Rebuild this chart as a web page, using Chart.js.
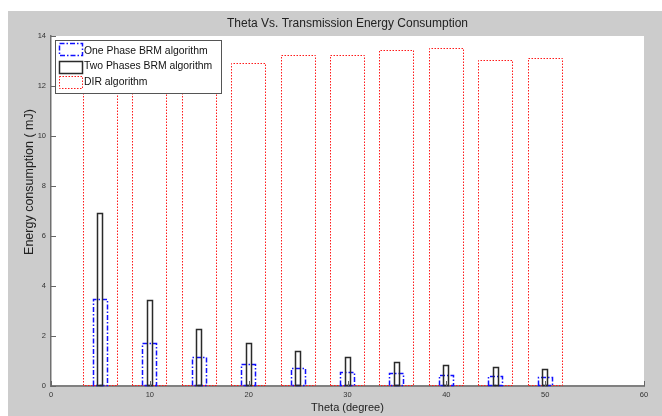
<!DOCTYPE html>
<html>
<head>
<meta charset="utf-8">
<script src="https://cdn.jsdelivr.net/npm/chart.js@4.4.1/dist/chart.umd.min.js"></script>
<style>
  html, body { margin: 0; padding: 0; background: #fff; }
  #wrap { position: relative; width: 662px; height: 416px; }
</style>
</head>
<body>
<div id="wrap"><canvas id="energyChart" width="662" height="416"></canvas></div>
<script>
// values
let thetas = [5, 10, 15, 20, 25, 30, 35, 40, 45, 50];
let onePhase = [3.47, 1.73, 1.17, 0.88, 0.71, 0.57, 0.51, 0.43, 0.41, 0.35];
let twoPhases = [6.91, 3.44, 2.29, 1.72, 1.39, 1.16, 0.97, 0.85, 0.76, 0.67];
let dirAlgo = [12.6, 12.7, 12.8, 12.93, 13.25, 13.23, 13.45, 13.53, 13.04, 13.13];
let seriesNames = ["One Phase BRM algorithm", "Two Phases BRM algorithm", "DIR algorithm"];
let xTicks = [0, 10, 20, 30, 40, 50, 60];
let yTicks = [0, 2, 4, 6, 8, 10, 12, 14];

// outline styles for each series (MATLAB style bars, no fill)
let styles = [
    { color: "#1010ff", width: 1.5, dash: [5, 2, 1.5, 2] },
    { color: "#2a2a2a", width: 1.5, dash: [] },
    { color: "#ff1a1a", width: 1, dash: [1.5, 1.5] }
];

function points(ys) {
    return thetas.map((t, i) => ({ x: t, y: ys[i] }));
}

// grey figure background + white axes box
const backgroundPlugin = {
    id: "background",
    beforeDraw(chart) {
        const ctx = chart.ctx, a = chart.chartArea;
        ctx.save();
        ctx.fillStyle = "#ffffff";
        ctx.fillRect(0, 0, chart.width, chart.height);
        ctx.fillStyle = "#cccccc";
        ctx.fillRect(8, 11, chart.width - 8, chart.height - 11);
        ctx.fillStyle = "#ffffff";
        ctx.fillRect(a.left, a.top, a.right - a.left, a.bottom - a.top);
        ctx.restore();
    }
};

// stroke bar outlines with dash patterns (bar elements can't dash)
const outlinePlugin = {
    id: "outline",
    afterDatasetsDraw(chart) {
        const ctx = chart.ctx;
        [2, 0, 1].forEach(di => {
            const st = styles[di];
            chart.getDatasetMeta(di).data.forEach(el => {
                const p = el.getProps(["x", "y", "base", "width"], true);
                const l = Math.round(p.x - p.width / 2) + 0.5;
                const r = Math.round(p.x + p.width / 2) - 0.5;
                const t = Math.round(p.y) + 0.5;
                const b = Math.round(p.base) - 0.5;
                ctx.save();
                ctx.strokeStyle = st.color;
                ctx.lineWidth = st.width;
                ctx.setLineDash(st.dash);
                ctx.beginPath();
                ctx.moveTo(l, b);
                ctx.lineTo(l, t);
                ctx.lineTo(r, t);
                ctx.lineTo(r, b);
                ctx.closePath();
                ctx.stroke();
                ctx.restore();
            });
        });
    }
};

// inward ticks, y title and the boxed legend in the top left corner
const decorPlugin = {
    id: "decor",
    afterDatasetsDraw(chart) {
        const ctx = chart.ctx, a = chart.chartArea;
        const xs = chart.scales.x, ys = chart.scales.y;
        ctx.save();
        ctx.strokeStyle = "#666";
        ctx.lineWidth = 1;
        ctx.beginPath();
        xTicks.forEach(v => {
            const px = Math.round(xs.getPixelForValue(v)) + 0.5;
            ctx.moveTo(px, a.bottom);
            ctx.lineTo(px, a.bottom - 5);
        });
        yTicks.forEach(v => {
            const py = Math.round(ys.getPixelForValue(v)) + 0.5;
            ctx.moveTo(a.left, py);
            ctx.lineTo(a.left + 5, py);
        });
        ctx.stroke();

        // y axis title
        ctx.fillStyle = "#222";
        ctx.font = "12.5px 'Liberation Sans', Arial, sans-serif";
        ctx.textAlign = "center";
        ctx.textBaseline = "middle";
        ctx.translate(30, 182);
        ctx.rotate(-Math.PI / 2);
        ctx.fillText("Energy consumption ( mJ)", 0, 0);
        ctx.restore();

        // legend box
        ctx.save();
        const lx = 55, ly = 40, lw = 166, lh = 53;
        ctx.fillStyle = "#fff";
        ctx.fillRect(lx, ly, lw, lh);
        ctx.strokeStyle = "#555";
        ctx.lineWidth = 1;
        ctx.strokeRect(lx + 0.5, ly + 0.5, lw, lh);
        const swatchTop = [43, 61, 76];
        const textMid = [51.5, 66.5, 82];
        seriesNames.forEach((name, i) => {
            const st = styles[i];
            ctx.save();
            ctx.strokeStyle = st.color;
            ctx.lineWidth = st.width;
            ctx.setLineDash(st.dash);
            ctx.strokeRect(59.5, swatchTop[i] + 0.5, 23, 12);
            ctx.restore();
            ctx.fillStyle = "#111";
            ctx.font = "10.4px 'Liberation Sans', Arial, sans-serif";
            ctx.textAlign = "left";
            ctx.textBaseline = "middle";
            ctx.fillText(name, 84, textMid[i]);
        });
        ctx.restore();
    }
};

let chart = new Chart(document.getElementById("energyChart"), {
    type: "bar",
    data: {
        datasets: [
            { label: seriesNames[0], data: points(onePhase), barThickness: 15, grouped: false,
              backgroundColor: "rgba(0,0,0,0)", borderWidth: 0 },
            { label: seriesNames[1], data: points(twoPhases), barThickness: 6, grouped: false,
              backgroundColor: "rgba(0,0,0,0)", borderWidth: 0 },
            { label: seriesNames[2], data: points(dirAlgo), barThickness: 35, grouped: false,
              backgroundColor: "rgba(0,0,0,0)", borderWidth: 0 }
        ]
    },
    options: {
        responsive: false,
        animation: false,
        devicePixelRatio: 1,
        layout: { padding: { left: 0, right: 18, top: 0, bottom: 0 } },
        plugins: {
            legend: { display: false },
            tooltip: { enabled: false },
            title: {
                display: true,
                fullSize: false,
                text: "Theta Vs. Transmission Energy Consumption",
                color: "#222",
                font: { family: "'Liberation Sans', Arial, sans-serif", size: 12, weight: "normal" },
                padding: { top: 16, bottom: 5.6 }
            }
        },
        scales: {
            x: {
                type: "linear",
                offset: false,
                min: 0, max: 60,
                afterFit: s => { s.height = 30; },
                afterBuildTicks: s => { s.ticks = xTicks.map(v => ({ value: v })); },
                ticks: { color: "#333", padding: 4, font: { family: "'Liberation Sans', Arial", size: 7.5 } },
                grid: { drawOnChartArea: false, drawTicks: false, offset: false },
                border: { color: "#808080", width: 2 },
                title: {
                    display: true, text: "Theta (degree)", color: "#222",
                    font: { family: "'Liberation Sans', Arial, sans-serif", size: 11 },
                    padding: { top: 0, bottom: 1.4 }
                }
            },
            y: {
                min: 0, max: 14,
                afterFit: s => { s.width = 51; },
                afterBuildTicks: s => { s.ticks = yTicks.map(v => ({ value: v })); },
                ticks: { color: "#333", padding: 5, font: { family: "'Liberation Sans', Arial", size: 7.5 } },
                grid: { drawOnChartArea: false, drawTicks: false },
                border: { color: "#707070", width: 1.5 }
            }
        }
    },
    plugins: [backgroundPlugin, outlinePlugin, decorPlugin]
});
</script>
</body>
</html>
